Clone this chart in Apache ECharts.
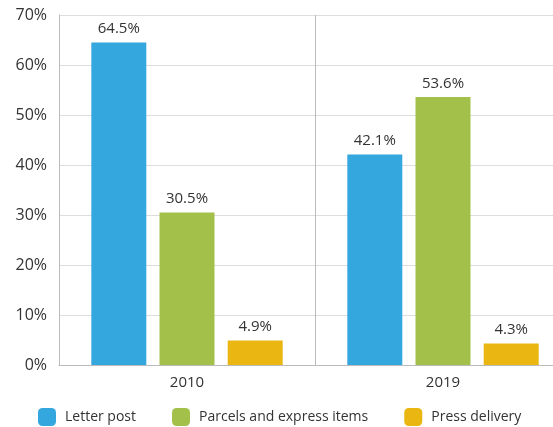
<!DOCTYPE html>
<html><head><meta charset="utf-8">
<script src="https://cdn.jsdelivr.net/npm/echarts@6/dist/echarts.min.js"></script>
<style>html,body{margin:0;padding:0;background:#fff}#c{width:553px;height:427px}</style>
</head><body><div id="c"></div>
<script>
const categories = ['2010', '2019'];
const letterPost = [64.5, 42.1];
const parcels = [30.5, 53.6];
const press = [4.9, 4.3];
const yTicks = [0, 10, 20, 30, 40, 50, 60, 70];
const font = 'Open Sans';
const chart = echarts.init(document.getElementById('c'));
function s(name, data, color) {
  return {
    name, type: 'bar', data, barWidth: 55, barGap: '24%',
    itemStyle: { color },
    label: { show: true, position: 'top', distance: 6, formatter: p => p.value.toFixed(1) + '%',
      color: '#333', fontSize: 15, fontFamily: font }
  };
}
chart.setOption({
  animation: false,
  textStyle: { fontFamily: font },
  grid: { left: 59, width: 512, top: 15, height: 350, containLabel: false, outerBoundsMode: 'none' },
  legend: {
    top: 403, left: 33, itemWidth: 18, itemHeight: 18, itemGap: 36,
    icon: 'roundRect',
    textStyle: { fontSize: 14, color: '#333', fontFamily: font, padding: [0, 0, 0, 4] },
    data: ['Letter post', 'Parcels and express items', 'Press delivery']
  },
  xAxis: {
    type: 'category', data: categories,
    axisLine: { lineStyle: { color: '#bbb' } },
    axisTick: { show: false },
    axisLabel: { color: '#333', fontSize: 15, margin: 10, fontFamily: font },
    splitLine: { show: true, lineStyle: { color: '#bbb' } }
  },
  yAxis: {
    type: 'value', min: yTicks[0], max: yTicks[yTicks.length - 1], interval: 10,
    axisLine: { show: true, lineStyle: { color: '#bbb' } },
    axisTick: { show: false },
    axisLabel: { formatter: '{value}%', color: '#333', fontSize: 16, margin: 12, fontFamily: font },
    splitLine: { lineStyle: { color: '#ddd' } }
  },
  series: [
    s('Letter post', letterPost, '#35A7DF'),
    s('Parcels and express items', parcels, '#A3C14A'),
    s('Press delivery', press, '#EAB712')
  ]
});
</script></body></html>
